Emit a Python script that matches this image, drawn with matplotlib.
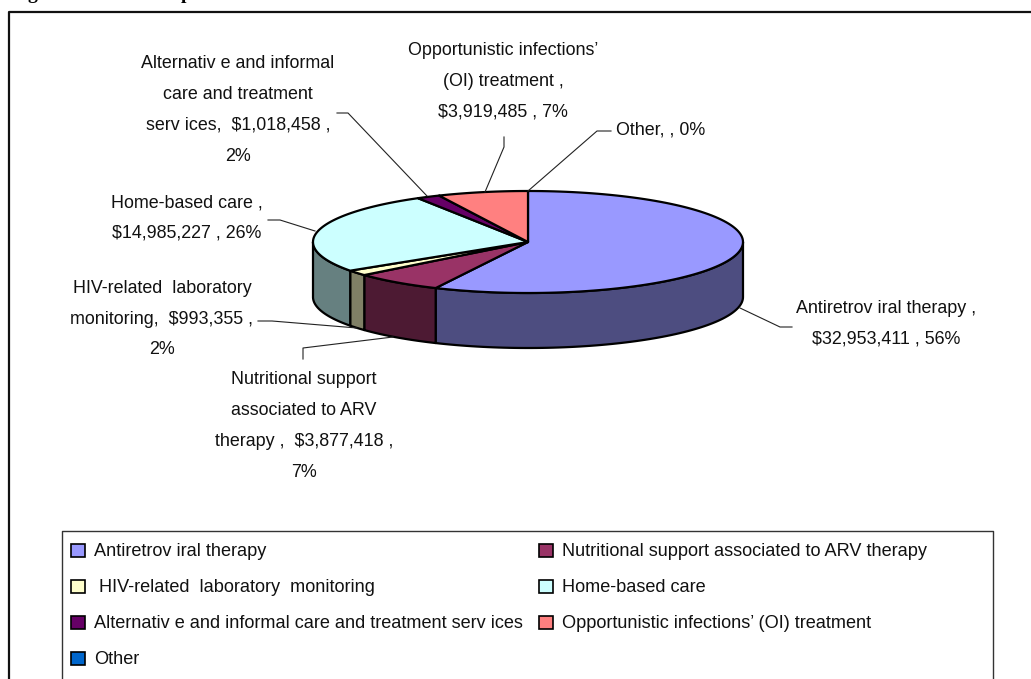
import numpy as np
import matplotlib
matplotlib.use('Agg')
import matplotlib.pyplot as plt
from matplotlib.patches import Rectangle

plt.rcParams['font.family'] = ['Liberation Sans', 'DejaVu Sans']

# data
names = ['Antiretrov iral therapy', 'Nutritional support associated to ARV therapy',
         ' HIV-related  laboratory  monitoring', 'Home-based care',
         'Alternativ e and informal care and treatment serv ices',
         'Opportunistic infections’ (OI) treatment', 'Other']
values = [32953411, 3877418, 993355, 14985227, 1018458, 3919485, 0]
top_colors = ['#9999FF', '#993366', '#FFFFCC', '#CCFFFF', '#660066', '#FF8080', '#0066CC']
side_colors = ['#4D4D80', '#4D1A33', '#808066', '#668080', '#330033', '#804040', '#003366']

data_labels = ['Antiretrov iral therapy ,\n$32,953,411 , 56%',
               'Nutritional support\nassociated to ARV\ntherapy ,  $3,877,418 ,\n7%',
               'HIV-related  laboratory\nmonitoring,  $993,355 ,\n2%',
               'Home-based care ,\n$14,985,227 , 26%',
               'Alternativ e and informal\ncare and treatment\nserv ices,  $1,018,458 ,\n2%',
               'Opportunistic infections’\n(OI) treatment ,\n$3,919,485 , 7%',
               'Other, , 0%']

# layout, in pixels of the picture
label_xy = [(886, 324), (304, 426), (162, 319), (187, 218), (238, 110), (503, 81), (661, 130)]
leaders = [[(740, 308), (780, 327), (792, 327)],
           [(393, 337), (303, 348), (303, 359)],
           [(357, 328), (272, 321), (258, 321)],
           [(315, 231), (280, 220), (268, 220)],
           [(427, 196), (348, 113), (337, 113)],
           [(485, 192), (504, 147), (504, 137)],
           [(528, 191), (597, 131), (611, 131)]]
legend_xy = [(71, 550), (539, 550), (71, 586), (539, 586), (71, 622), (539, 622), (71, 658)]
cx, cy, rx, ry, depth = 528, 242, 215, 51, 55


def project(theta, shift=0):
    # theta in degrees, clockwise from the top of the pie
    t = np.radians(theta)
    x = cx + rx * np.sin(t)
    y = cy - ry * np.cos(t) + shift
    return x, y


fig = plt.figure(figsize=(10.31, 6.79), dpi=100)
ax = fig.add_axes([0, 0, 1, 1])
ax.set_xlim(0, 1031)
ax.set_ylim(679, 0)
ax.axis('off')

# frame and clipped heading above it
ax.plot([9, 9, 1031], [679, 12, 12], color='#111111', lw=1.6)
for ch, x in [('g', 32), ('p', 186)]:
    ax.text(x, -1, ch, family='Liberation Serif', weight='bold', fontsize=14,
            ha='center', va='baseline', clip_on=False)

# pie
edges = np.cumsum([0] + values) / sum(values) * 360

# sides first, only the front half shows
for i in range(len(values)):
    a = max(edges[i], 90)
    b = min(edges[i + 1], 270)
    if b <= a:
        continue
    th = np.linspace(a, b, 80)
    x1, y1 = project(th)
    x2, y2 = project(th[::-1], depth)
    ax.fill(np.r_[x1, x2], np.r_[y1, y2], facecolor=side_colors[i], edgecolor='black',
            lw=1.6, joinstyle='round')

for i in range(len(values)):
    if values[i] == 0:
        continue
    th = np.linspace(edges[i], edges[i + 1], 120)
    x1, y1 = project(th)
    ax.fill(np.r_[cx, x1], np.r_[cy, y1], facecolor=top_colors[i], edgecolor='black',
            lw=1.6, joinstyle='round')

# data labels and leader lines
for i in range(len(values)):
    pts = np.array(leaders[i])
    ax.plot(pts[:, 0], pts[:, 1], color='#222222', lw=0.8)
    ax.text(label_xy[i][0], label_xy[i][1], data_labels[i], fontsize=12.9, color='#111111',
            ha='center', va='center', linespacing=2.07)

# legend
ax.plot([62, 62, 993, 993], [679, 531, 531, 679], color='#333333', lw=1)
for i in range(len(names)):
    x, y = legend_xy[i]
    ax.add_patch(Rectangle((x, y - 6), 14, 13, facecolor=top_colors[i], edgecolor='black', lw=1.2))
    ax.text(x + 23, y + 1, names[i], fontsize=13.1, color='#111111', ha='left', va='center')

fig.savefig('out.png', dpi=100)
